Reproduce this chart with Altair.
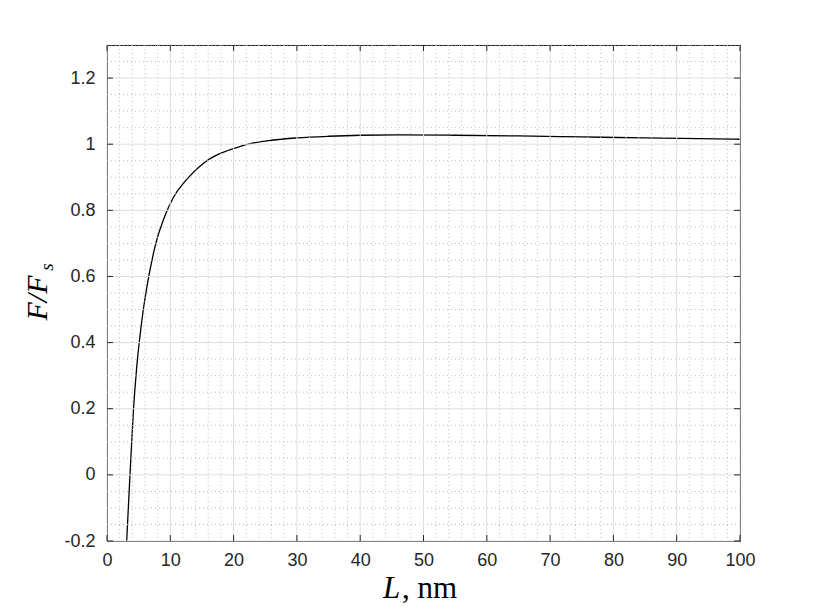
import altair as alt
import pandas as pd

# Curve values
L_nm = [3.11, 3.63, 4.16, 4.69, 5.21, 5.74, 6.27, 6.8, 7.4, 8.0, 8.7, 9.4, 10.2, 11.0,
        12.0, 13.0, 14.5, 16.0, 18.0, 20.5, 23.0, 26.0, 30.0, 35.0, 40.0, 46.0, 55.0, 65.0,
        75.0, 85.0, 100.0]
F_ratio = [-0.2, 0.0, 0.19, 0.325, 0.42, 0.50, 0.565, 0.62, 0.675, 0.72, 0.76, 0.795, 0.828, 0.855,
           0.88, 0.902, 0.93, 0.953, 0.973, 0.99, 1.003, 1.012, 1.019, 1.024, 1.027, 1.028, 1.027,
           1.025, 1.022, 1.019, 1.015]

x_major = [0, 10, 20, 30, 40, 50, 60, 70, 80, 90, 100]
y_major = [-0.2, 0.0, 0.2, 0.4, 0.6, 0.8, 1.0, 1.2]
x_minor = [2, 4, 6, 8, 12, 14, 16, 18, 22, 24, 26, 28, 32, 34, 36, 38, 42, 44, 46, 48,
           52, 54, 56, 58, 62, 64, 66, 68, 72, 74, 76, 78, 82, 84, 86, 88, 92, 94, 96, 98]
y_minor = [-0.15, -0.1, -0.05, 0.05, 0.1, 0.15, 0.25, 0.3, 0.35, 0.45, 0.5, 0.55,
           0.65, 0.7, 0.75, 0.85, 0.9, 0.95, 1.05, 1.1, 1.15, 1.25, 1.3]

W, H = 633, 496
XS = alt.Scale(domain=[0, 100], nice=False, zero=False)
YS = alt.Scale(domain=[-0.2, 1.3], nice=False, zero=False)
AX = "#262626"

XAX = alt.Axis(values=x_major, title=None, domain=False, ticks=False, grid=False,
               labelFont="Liberation Sans", labelFontSize=18, labelColor=AX,
               labelPadding=10, labelFlush=False, labelOverlap=False, format="d")
YAX = alt.Axis(values=y_major, title=None, domain=False, ticks=False, grid=False,
               labelFont="Liberation Sans", labelFontSize=18, labelColor=AX,
               labelPadding=12, labelFlush=False, labelOverlap=False,
               labelExpr="datum.value < 0 ? '-' + format(-datum.value, '.1~f') : format(datum.value, '.1~f')")

curve = pd.DataFrame({"L": L_nm, "F": F_ratio})
dxM = pd.DataFrame({"v": x_major})
dyM = pd.DataFrame({"v": y_major})
dxm = pd.DataFrame({"v": x_minor})
dym = pd.DataFrame({"v": y_minor})
one = pd.DataFrame({"a": [0]})


def xf(name):
    return alt.X(f"{name}:Q", scale=XS, axis=XAX)


def yf(name):
    return alt.Y(f"{name}:Q", scale=YS, axis=YAX)


minor_x = alt.Chart(dxm).mark_rule(color="#bdbdbd", strokeWidth=1, strokeDash=[1, 3]).encode(
    x=xf("v"), y=alt.value(0), y2=alt.value(H))
minor_y = alt.Chart(dym).mark_rule(color="#bdbdbd", strokeWidth=1, strokeDash=[1, 3]).encode(
    y=yf("v"), x=alt.value(0), x2=alt.value(W))
major_x = alt.Chart(dxM).mark_rule(color="#dedede", strokeWidth=1).encode(
    x=xf("v"), y=alt.value(0), y2=alt.value(H))
major_y = alt.Chart(dyM).mark_rule(color="#dedede", strokeWidth=1).encode(
    y=yf("v"), x=alt.value(0), x2=alt.value(W))

tick_b = alt.Chart(dxM).mark_rule(color=AX, strokeWidth=1).encode(
    x=xf("v"), y=alt.value(H), y2=alt.value(H - 6))
tick_t = alt.Chart(dxM).mark_rule(color=AX, strokeWidth=1).encode(
    x=xf("v"), y=alt.value(0), y2=alt.value(6))
tick_l = alt.Chart(dyM).mark_rule(color=AX, strokeWidth=1).encode(
    y=yf("v"), x=alt.value(0), x2=alt.value(6))
tick_r = alt.Chart(dyM).mark_rule(color=AX, strokeWidth=1).encode(
    y=yf("v"), x=alt.value(W), x2=alt.value(W - 6))

line = alt.Chart(curve).mark_line(color="black", strokeWidth=1.3, interpolate="monotone").encode(
    x=xf("L"), y=yf("F"))

xt1 = alt.Chart(one).mark_text(text="L", font="Liberation Serif", fontStyle="italic",
                               fontSize=31, align="left", baseline="alphabetic", color="black").encode(
    x=alt.value(276), y=alt.value(553))
xt2 = alt.Chart(one).mark_text(text=", nm", font="Liberation Serif", fontSize=31,
                               align="left", baseline="alphabetic", color="black").encode(
    x=alt.value(295), y=alt.value(553))
yt1 = alt.Chart(one).mark_text(text="F/F", font="Liberation Serif", fontStyle="italic",
                               fontSize=30, align="center", baseline="alphabetic", angle=270,
                               color="black").encode(
    x=alt.value(-60), y=alt.value(253))
yt2 = alt.Chart(one).mark_text(text="s", font="Liberation Serif", fontStyle="italic",
                               fontSize=19, align="center", baseline="alphabetic", angle=270,
                               color="black").encode(
    x=alt.value(-54), y=alt.value(222))

chart = alt.layer(line, minor_x, minor_y, major_x, major_y, tick_b, tick_t, tick_l, tick_r,
                  xt1, xt2, yt1, yt2).properties(
    width=W, height=H,
    padding={"left": 99, "top": 37, "right": 69, "bottom": 64},
    autosize=alt.AutoSizeParams(type="none"),
    background="white",
).configure_view(stroke=AX, strokeWidth=1)

chart.save("out.html", embed_options={"renderer": "svg", "actions": False})
